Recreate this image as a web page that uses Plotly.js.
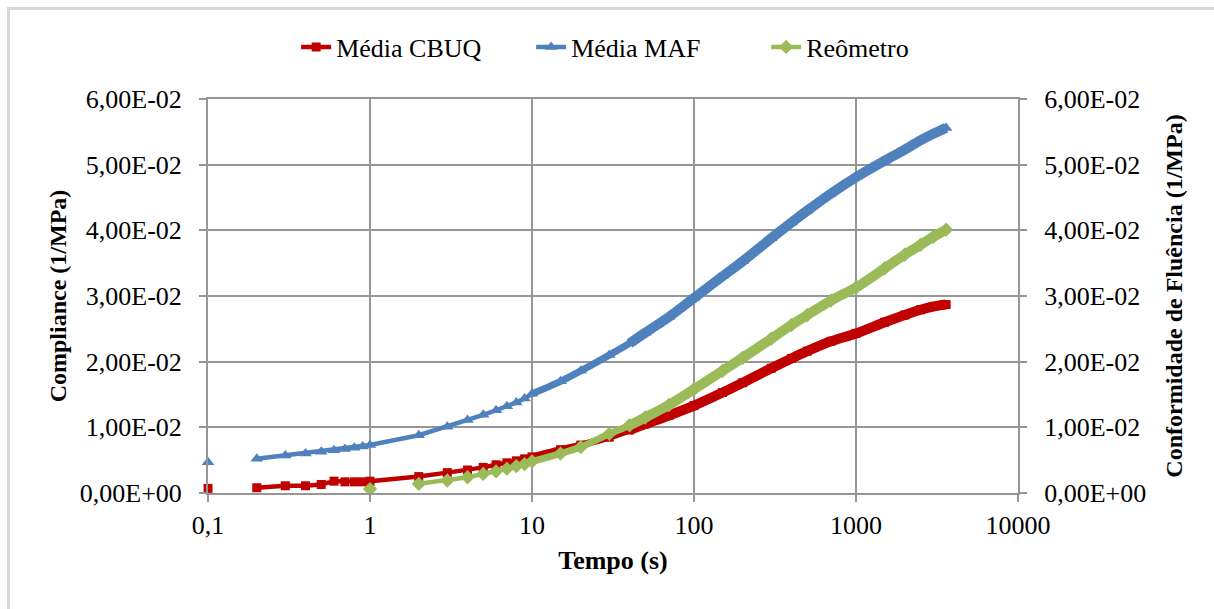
<!DOCTYPE html>
<html>
<head>
<meta charset="utf-8">
<script src="https://cdn.plot.ly/plotly-3.0.1.min.js"></script>
<style>
  html, body { margin: 0; padding: 0; background: #ffffff; }
  #wrap { position: relative; width: 1214px; height: 609px; overflow: hidden; }
  #chart { width: 1214px; height: 609px; }
  #frame { position: absolute; left: 7px; top: 7px; width: 1400px; height: 800px;
           border-left: 3px solid #d9d9d9; border-top: 3px solid #d9d9d9; pointer-events: none; }
</style>
</head>
<body>
<div id="wrap">
  <div id="chart"></div>
  <div id="frame"></div>
</div>
<script>
// ---- data ----
const tempoCBUQ = [0.1, null, 0.2, 0.3, 0.4, 0.5, 0.6, 0.7, 0.8, 0.9, 1, 2, 3, 4, 5, 6, 7, 8, 9, 10, 15, 20, 30, 40, 50, 70, 100, 150, 200, 300, 400, 500, 700, 1000, 1500, 2000, 2500, 3000, 3600];
const mediaCBUQ = [0.0007, null, 0.0008, 0.0011, 0.0011, 0.0013, 0.0018, 0.0017, 0.0017, 0.0017, 0.0018, 0.0025, 0.0031, 0.0035, 0.0039, 0.0043, 0.0046, 0.0049, 0.0052, 0.0055, 0.0066, 0.0073, 0.0085, 0.0096, 0.0105, 0.0118, 0.0133, 0.0153, 0.0168, 0.0190, 0.0205, 0.0216, 0.0231, 0.0243, 0.0260, 0.0271, 0.0279, 0.0284, 0.0287];

const tempoMAF = [0.1, null, 0.2, 0.3, 0.4, 0.5, 0.6, 0.7, 0.8, 0.9, 1, 2, 3, 4, 5, 6, 7, 8, 9, 10, 15, 20, 30, 40, 50, 70, 100, 150, 200, 300, 400, 500, 700, 1000, 1500, 2000, 2500, 3000, 3600];
const mediaMAF = [0.0047, null, 0.0052, 0.0057, 0.0060, 0.0063, 0.0065, 0.0067, 0.0069, 0.0071, 0.0073, 0.0088, 0.0101, 0.0111, 0.0119, 0.0126, 0.0132, 0.0138, 0.0144, 0.0151, 0.0170, 0.0186, 0.0210, 0.0228, 0.0244, 0.0268, 0.0297, 0.0330, 0.0353, 0.0388, 0.0412, 0.0430, 0.0456, 0.0481, 0.0506, 0.0523, 0.0537, 0.0547, 0.0556];

const tempoReo = [1, null, 2, 3, 4, 5, 6, 7, 8, 9, 10, 15, 20, 30, 40, 50, 70, 100, 150, 200, 300, 400, 500, 700, 1000, 1500, 2000, 2500, 3000, 3600];
const reometro = [0.0006, null, 0.0014, 0.0019, 0.0024, 0.0029, 0.0033, 0.0037, 0.0041, 0.0044, 0.0048, 0.0060, 0.0070, 0.0090, 0.0103, 0.0115, 0.0134, 0.0158, 0.0186, 0.0206, 0.0235, 0.0256, 0.0271, 0.0293, 0.0313, 0.0342, 0.0363, 0.0378, 0.0390, 0.0401];

const seriesNames = ['Média CBUQ', 'Média MAF', 'Reômetro'];
const xTickVals = [0.1, 1, 10, 100, 1000, 10000];
const xTickText = ['0,1', '1', '10', '100', '1000', '10000'];
const yTickVals = [0, 0.01, 0.02, 0.03, 0.04, 0.05, 0.06];
const yTickText = ['0,00E+00', '1,00E-02', '2,00E-02', '3,00E-02', '4,00E-02', '5,00E-02', '6,00E-02'];

// ---- styling ----
const FONT = "'Liberation Serif', 'Times New Roman', serif";
const GRID = '#969696';
const colors = ['#C00000', '#4F81BD', '#9BBB59'];
const symbols = ['square', 'triangle-up', 'diamond'];
const msize = [9, 11, 11];

function tail(xs, ys, from) {
  const ox = [], oy = [];
  for (let i = 0; i < xs.length; i++) {
    if (xs[i] !== null && xs[i] >= from) { ox.push(xs[i]); oy.push(ys[i]); }
  }
  return [ox, oy];
}

const sets = [[tempoCBUQ, mediaCBUQ, 'y'], [tempoMAF, mediaMAF, 'y'], [tempoReo, reometro, 'y2']];
const under = [];
// thickened band where the original samples are packed densely
[[10, 7], [40, 10]].forEach(([from, w]) => {
  sets.forEach((s, i) => {
    const [tx, ty] = tail(s[0], s[1], from);
    under.push({
      x: tx, y: ty, yaxis: s[2], type: 'scatter', mode: 'lines',
      line: {color: colors[i], width: w, shape: 'spline', smoothing: 0.8},
      showlegend: false, hoverinfo: 'skip'
    });
  });
});
const main = sets.map((s, i) => ({
  x: s[0], y: s[1], yaxis: s[2], type: 'scatter', mode: 'lines+markers', name: seriesNames[i],
  connectgaps: false, cliponaxis: false,
  line: {color: colors[i], width: 4.5},
  marker: {symbol: symbols[i], size: msize[i], color: colors[i]}
}));
const traces = main.concat(under);

const yCommon = {
  range: [0, 0.06], tickvals: yTickVals, ticktext: yTickText,
  ticks: 'outside', ticklen: 7, tickwidth: 2, tickcolor: GRID,
  tickfont: {family: FONT, size: 26, color: '#000'},
  ticklabelstandoff: 12, zeroline: false, automargin: false
};

const layout = {
  width: 1214, height: 609,
  margin: {l: 208, r: 196, t: 99, b: 116, pad: 0, autoexpand: false},
  paper_bgcolor: '#ffffff', plot_bgcolor: '#ffffff',
  font: {family: FONT, size: 26, color: '#000'},
  showlegend: true,
  legend: {orientation: 'h', x: 0.544, xanchor: 'center', y: 1.132, yanchor: 'middle',
           entrywidth: 190, entrywidthmode: 'pixels',
           font: {family: FONT, size: 26, color: '#000'}, itemclick: false, traceorder: 'normal'},
  xaxis: {
    type: 'log', range: [-1, 4], tickvals: xTickVals, ticktext: xTickText,
    showgrid: true, gridcolor: GRID, gridwidth: 2,
    showline: true, linecolor: GRID, linewidth: 2, mirror: true,
    ticks: 'outside', ticklen: 7, tickwidth: 2, tickcolor: GRID,
    tickfont: {family: FONT, size: 26, color: '#000'}, ticklabelstandoff: 1,
    title: {text: '<b>Tempo (s)</b>', font: {family: FONT, size: 26, color: '#000'}, standoff: 12},
    automargin: false, zeroline: false
  },
  yaxis: Object.assign({}, yCommon, {
    showgrid: true, gridcolor: GRID, gridwidth: 2,
    showline: true, linecolor: GRID, linewidth: 2, mirror: true,
    title: {text: '<b>Compliance (1/MPa)</b>', font: {family: FONT, size: 24, color: '#000'}, standoff: 6}
  }),
  yaxis2: Object.assign({}, yCommon, {
    overlaying: 'y', side: 'right', anchor: 'x', showgrid: false,
    showline: true, linecolor: GRID, linewidth: 2,
    title: {text: '<b>Conformidade de Fluência (1/MPa)</b>', font: {family: FONT, size: 24, color: '#000'}, standoff: 20}
  })
};

Plotly.newPlot('chart', traces, layout, {displayModeBar: false, staticPlot: true});
</script>
</body>
</html>
